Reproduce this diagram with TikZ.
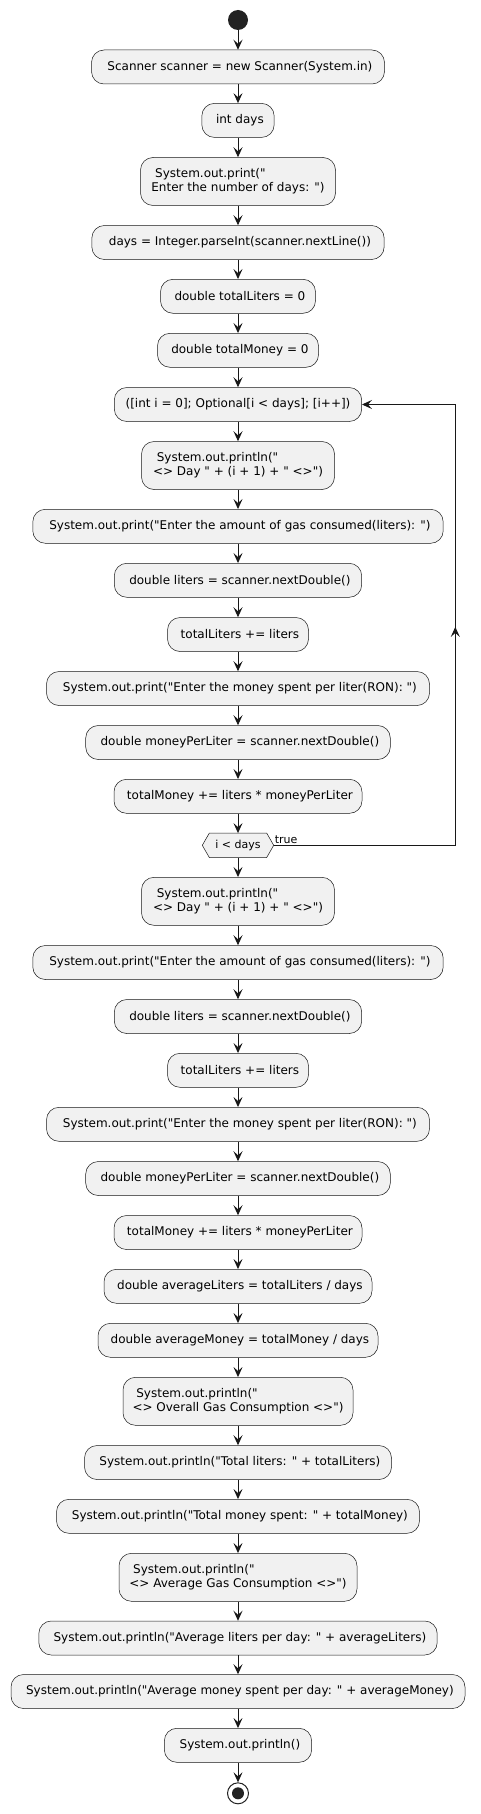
\documentclass[tikz,border=0pt]{standalone}
\usepackage{fontspec}
\setmainfont{DejaVu Sans}[Ligatures=TeXOff]
\usetikzlibrary{arrows.meta,decorations.markings}
\definecolor{actfill}{HTML}{F1F1F1}
\definecolor{actline}{HTML}{181818}
\definecolor{dotc}{HTML}{222222}
\begin{document}
\begin{tikzpicture}[x=1pt,y=-1pt,
  act/.style={draw=actline, line width=0.5pt, fill=actfill, rounded corners=12.5pt,
    minimum height=34pt, inner sep=0pt, font=\fontsize{12}{14}\selectfont, text=black},
  acttwo/.style={act, minimum height=48pt, align=left},
  flow/.style={draw=actline, line width=1pt, -{Stealth[length=10pt,width=9pt,inset=4pt]}},
  lbl/.style={inner sep=0pt, font=\fontsize{11}{13}\selectfont, text=black}
]
\fill[white] (0,0) rectangle (480,1814);
\useasboundingbox (0,0) rectangle (480,1814);

\node[circle, fill=dotc, minimum size=20pt, inner sep=0pt] (start) at (238,20) {};
\node[act, minimum width=293pt] (b1) at (238,67) {\ Scanner scanner = new Scanner(System.in)};
\node[act, minimum width=72.3pt] (b2) at (238,120.4) {\ int days};
\node[acttwo, minimum width=195pt] (b3) at (238,181.5) {\ System.out.print("\\Enter the number of days: ")};
\node[act, minimum width=292.3pt] (b4) at (238,242.5) {\ days = Integer.parseInt(scanner.nextLine())};
\node[act, minimum width=155pt] (b5) at (238,296.3) {\ double totalLiters = 0};
\node[act, minimum width=161pt] (b6) at (238,350.3) {\ double totalMoney = 0};
\node[act, minimum width=247.4pt] (b7) at (238,404.5) {([int i = 0]; Optional[i < days]; [i++])};
\node[acttwo, minimum width=193pt] (b8) at (238,465.5) {\ System.out.println("\\<> Day " + (i + 1) + " <>")};
\node[act, minimum width=410.4pt] (b9) at (238,526.3) {\ System.out.print("Enter the amount of gas consumed(liters): ")};
\node[act, minimum width=247.4pt] (b10) at (238,580.3) {\ double liters = scanner.nextDouble()};
\node[act, minimum width=141pt] (b11) at (238,634.5) {\ totalLiters += liters};
\node[act, minimum width=383pt] (b12) at (238,688.5) {\ System.out.print("Enter the money spent per liter(RON): ")};
\node[act, minimum width=304.6pt] (b13) at (238,742.5) {\ double moneyPerLiter = scanner.nextDouble()};
\node[act, minimum width=248pt] (b14) at (238,796.3) {\ totalMoney += liters * moneyPerLiter};

\node[inner sep=0pt, minimum width=71pt, minimum height=24pt] (dec) at (238,845.3) {};
\filldraw[fill=actfill, draw=actline, line width=0.5pt]
  (dec.west) -- ([xshift=7pt]dec.north west) -- ([xshift=-7pt]dec.north east) -- (dec.east)
  -- ([xshift=-7pt]dec.south east) -- ([xshift=7pt]dec.south west) -- cycle;
\node[lbl] (dectext) at (dec.center) {i < days};
\node[lbl, anchor=west] (truelbl) at ([xshift=1pt,yshift=6pt]dec.east) {true};

\node[acttwo, minimum width=193pt] (b15) at (238,901.3) {\ System.out.println("\\<> Day " + (i + 1) + " <>")};
\node[act, minimum width=410.4pt] (b16) at (238,962.5) {\ System.out.print("Enter the amount of gas consumed(liters): ")};
\node[act, minimum width=247.4pt] (b17) at (238,1016.5) {\ double liters = scanner.nextDouble()};
\node[act, minimum width=141pt] (b18) at (238,1070.3) {\ totalLiters += liters};
\node[act, minimum width=383pt] (b19) at (238,1124.3) {\ System.out.print("Enter the money spent per liter(RON): ")};
\node[act, minimum width=304.6pt] (b20) at (238,1178.5) {\ double moneyPerLiter = scanner.nextDouble()};
\node[act, minimum width=248pt] (b21) at (238,1232.5) {\ totalMoney += liters * moneyPerLiter};
\node[act, minimum width=268pt] (b22) at (238,1286.3) {\ double averageLiters = totalLiters / days};
\node[act, minimum width=280pt] (b23) at (238,1340.3) {\ double averageMoney = totalMoney / days};
\node[acttwo, minimum width=230pt] (b24) at (238,1401.3) {\ System.out.println("\\<> Overall Gas Consumption <>")};
\node[act, minimum width=307pt] (b25) at (238,1462.5) {\ System.out.println("Total liters: " + totalLiters)};
\node[act, minimum width=363pt] (b26) at (238,1516.3) {\ System.out.println("Total money spent: " + totalMoney)};
\node[acttwo, minimum width=238pt] (b27) at (238,1577.3) {\ System.out.println("\\<> Average Gas Consumption <>")};
\node[act, minimum width=398.4pt] (b28) at (238,1638) {\ System.out.println("Average liters per day: " + averageLiters)};
\node[act, minimum width=454pt] (b29) at (238,1691.5) {\ System.out.println("Average money spent per day: " + averageMoney)};
\node[act, minimum width=147.3pt] (b30) at (238,1745.3) {\ System.out.println()};

\node[circle, draw=dotc, line width=1pt, fill=white, minimum size=21pt, inner sep=0pt] (end) at (238,1793.3) {};
\fill[dotc] (end.center) circle (6);

\draw[flow] (start) -- (b1);
\draw[flow] (b1) -- (b2);
\draw[flow] (b2) -- (b3);
\draw[flow] (b3) -- (b4);
\draw[flow] (b4) -- (b5);
\draw[flow] (b5) -- (b6);
\draw[flow] (b6) -- (b7);
\draw[flow] (b7) -- (b8);
\draw[flow] (b8) -- (b9);
\draw[flow] (b9) -- (b10);
\draw[flow] (b10) -- (b11);
\draw[flow] (b11) -- (b12);
\draw[flow] (b12) -- (b13);
\draw[flow] (b13) -- (b14);
\draw[flow] (b14) -- (dec.north);
\draw[flow] (dec.south) -- (b15);
\draw[flow] (b15) -- (b16);
\draw[flow] (b16) -- (b17);
\draw[flow] (b17) -- (b18);
\draw[flow] (b18) -- (b19);
\draw[flow] (b19) -- (b20);
\draw[flow] (b20) -- (b21);
\draw[flow] (b21) -- (b22);
\draw[flow] (b22) -- (b23);
\draw[flow] (b23) -- (b24);
\draw[flow] (b24) -- (b25);
\draw[flow] (b25) -- (b26);
\draw[flow] (b26) -- (b27);
\draw[flow] (b27) -- (b28);
\draw[flow] (b28) -- (b29);
\draw[flow] (b29) -- (b30);
\draw[flow] (b30) -- (end);

\coordinate (lr) at (455.3,845.3);
\coordinate (ur) at (455.3,404.5);
\draw[flow, postaction={decorate},
  decoration={markings, mark=at position 400pt with {\arrow{Stealth[length=10pt,width=9pt,inset=4pt]}}}]
  (dec.east) -- (lr) -- (ur) -- (b7.east);
\end{tikzpicture}
\end{document}
